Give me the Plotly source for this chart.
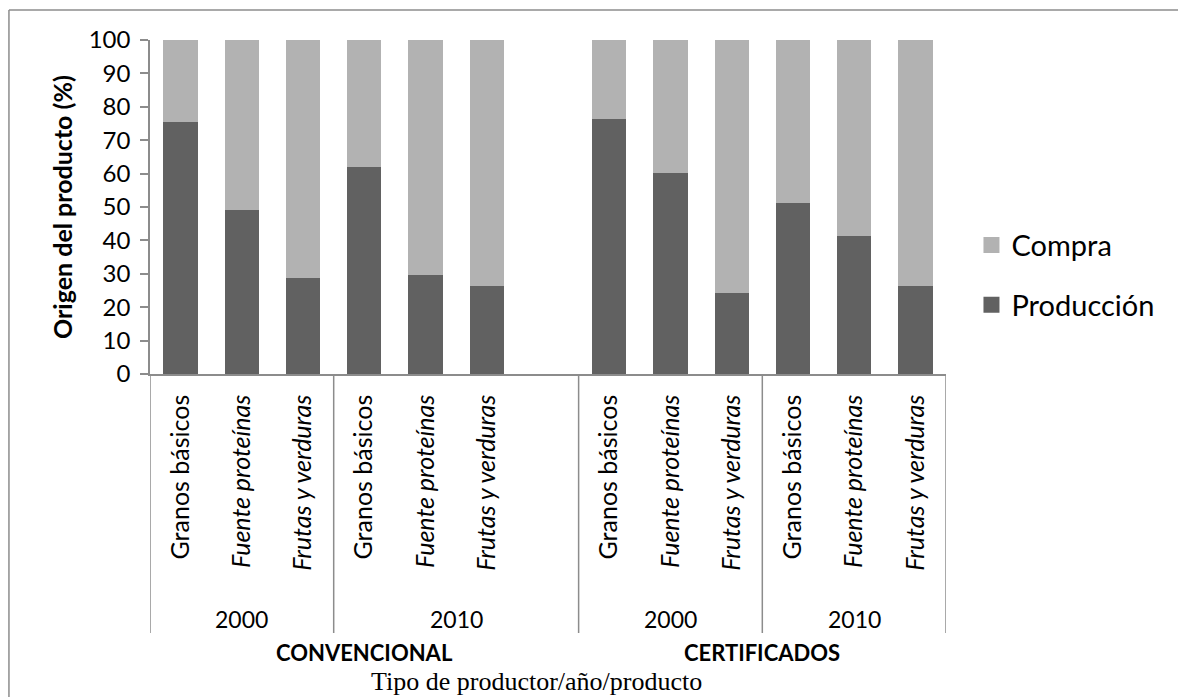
import plotly.graph_objects as go

# Product categories, years and producer types
productos = ["Granos básicos", "Fuente proteínas", "Frutas y verduras"]
anios = ["2000", "2010"]
tipos = ["CONVENCIONAL", "CERTIFICADOS"]

# Share of each product obtained from own production vs. purchase (%)
produccion_conv = [75.5, 49.0, 28.8, 61.9, 29.6, 26.2]
compra_conv = [24.5, 51.0, 71.4, 38.1, 70.4, 74.0]
produccion_cert = [76.3, 60.1, 24.2, 51.2, 41.4, 26.2]
compra_cert = [23.7, 39.9, 75.8, 48.8, 58.6, 73.8]

FONT = "Lato"
AXIS_COLOR = "#8c8c8c"
DARK = "#616161"
LIGHT = "#b2b2b2"

# Slot positions: six conventional bars, one empty slot, six certified bars
n = len(produccion_conv)
pos = list(range(n)) + [n + 1 + i for i in range(n)]
produccion = produccion_conv + produccion_cert
compra = compra_conv + compra_cert


def etiqueta(p):
    return p if p == productos[0] else f"<i>{p}</i>"


ticktext = [etiqueta(p) for _ in range(4) for p in productos]

fig = go.Figure()
fig.add_trace(go.Bar(x=pos, y=produccion, name="Producción", marker_color=DARK,
                     marker_line_width=0, width=0.56, cliponaxis=False,
                     showlegend=False))
fig.add_trace(go.Bar(x=pos, y=compra, name="Compra", marker_color=LIGHT,
                     marker_line_width=0, width=0.56, cliponaxis=False,
                     showlegend=False))

# Legend entries with larger square swatches
for name, color, rank in [("Compra", LIGHT, 1), ("Producción", DARK, 2)]:
    fig.add_trace(go.Scatter(x=[None], y=[None], mode="markers", name=name,
                             marker=dict(symbol="square", size=16, color=color),
                             legendgroup=name, legendrank=rank))

x_min, x_max = -0.5, pos[-1] + 0.5
line_bottom = -0.7755

# Year-group and producer-type separators below the axis
year_edges = [x_min, 2.5, n + 0.5, n + 3.5, x_max]
shapes = []
for xe in year_edges:
    shapes.append(dict(type="line", xref="x", yref="paper", x0=xe, x1=xe,
                       y0=0, y1=line_bottom,
                       line=dict(color=AXIS_COLOR, width=1.5)))

# Outer chart frame: left and top edges
frame_left, frame_top = -0.1772, 1.0898
shapes.append(dict(type="line", xref="paper", yref="paper",
                   x0=frame_left, x1=frame_left, y0=frame_top, y1=-1.2,
                   line=dict(color=AXIS_COLOR, width=1.5)))
shapes.append(dict(type="line", xref="paper", yref="paper",
                   x0=frame_left, x1=1.3, y0=frame_top, y1=frame_top,
                   line=dict(color=AXIS_COLOR, width=1.5)))

annotations = []
year_groups = [(x_min, 2.5), (2.5, n + 0.5), (n + 0.5, n + 3.5), (n + 3.5, x_max)]
for i, (a, b) in enumerate(year_groups):
    annotations.append(dict(x=(a + b) / 2, y=-0.733, xref="x", yref="paper",
                            xanchor="center", yanchor="middle",
                            text=anios[i % 2], showarrow=False,
                            font=dict(family=FONT, size=23, color="black")))
type_groups = [(x_min, n + 0.5), (n + 0.5, x_max)]
for t, (a, b) in zip(tipos, type_groups):
    annotations.append(dict(x=(a + b) / 2, y=-0.834, xref="x", yref="paper",
                            xanchor="center", yanchor="middle",
                            text=f"<b>{t}</b>", showarrow=False,
                            font=dict(family=FONT, size=22, color="black")))
annotations.append(dict(x=-0.1106, y=0.5, xref="paper", yref="paper",
                        xanchor="center", yanchor="middle",
                        text="<b>Origen del producto (%)</b>", textangle=-90,
                        showarrow=False,
                        font=dict(family=FONT, size=25, color="black")))
annotations.append(dict(x=(536 - 150) / 795.7, y=-0.92, xref="paper",
                        yref="paper", xanchor="center", yanchor="middle",
                        text="Tipo de productor/año/producto",
                        showarrow=False,
                        font=dict(family="Liberation Serif", size=26,
                                  color="black")))

fig.update_layout(
    width=1178, height=697,
    margin=dict(l=150, r=232, t=40, b=323),
    paper_bgcolor="white", plot_bgcolor="white",
    barmode="stack",
    font=dict(family=FONT, color="black"),
    xaxis=dict(range=[x_min, x_max], tickmode="array", tickvals=pos,
               ticktext=ticktext, tickangle=-90, ticks="",
               ticklabelstandoff=9,
               tickfont=dict(family=FONT, size=25, color="black"),
               showline=True, linecolor=AXIS_COLOR, linewidth=1.5,
               showgrid=False, zeroline=False, fixedrange=True),
    yaxis=dict(range=[0, 100], dtick=10, ticks="outside", ticklen=8,
               tickcolor=AXIS_COLOR, tickwidth=1.5,
               ticklabelstandoff=5,
               tickfont=dict(family=FONT, size=24, color="black"),
               showline=True, linecolor=AXIS_COLOR, linewidth=1.5,
               showgrid=False, zeroline=False),
    showlegend=True,
    legend=dict(x=1.032, y=0.462, xanchor="left", yanchor="top",
                traceorder="grouped", tracegroupgap=19,
                font=dict(family=FONT, size=29, color="black"),
                bgcolor="rgba(0,0,0,0)"),
    shapes=shapes,
    annotations=annotations,
)

fig.write_html("out.html")
